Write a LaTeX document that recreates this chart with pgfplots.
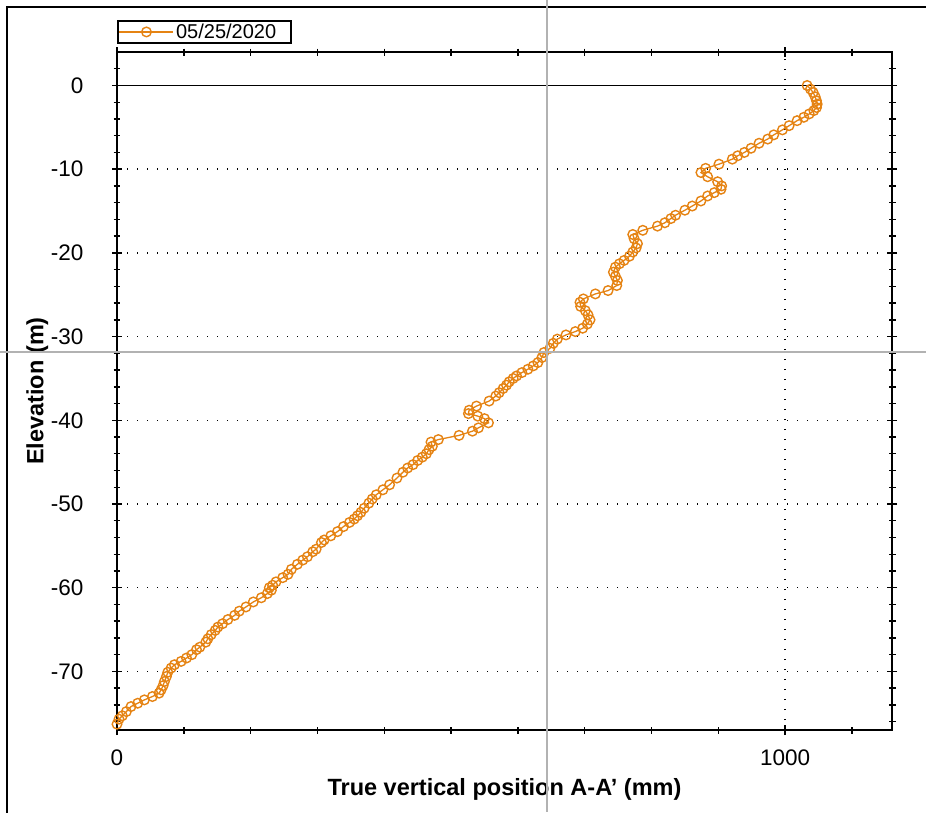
\documentclass[border=0pt]{standalone}
\usepackage{fontspec}
\setmainfont{Liberation Sans}
\usepackage{pgfplots}
\pgfplotsset{compat=1.18}
\definecolor{series}{RGB}{229,131,19}
\definecolor{cursor}{RGB}{178,178,178}
\begin{document}
\begin{tikzpicture}
\path[use as bounding box] (0pt,0pt) rectangle (926pt,-812pt);
% outer frame
\draw[line width=2pt] (6.5pt,-820pt) -- (6.5pt,-6.5pt) -- (930pt,-6.5pt);
\begin{axis}[
  at={(117pt,-730pt)}, anchor=south west,
  scale only axis, width=775pt, height=678pt,
  xmin=0, xmax=1160, ymin=-77, ymax=4,
  xtick={0,1000},
  minor xtick={100,200,300,400,500,600,700,800,900,1100},
  ytick={-70,-60,-50,-40,-30,-20,-10,0},
  minor ytick={-76,-74,-72,-68,-66,-64,-62,-58,-56,-54,-52,-48,-46,-44,-42,-38,-36,-34,-32,-28,-26,-24,-22,-18,-16,-14,-12,-8,-6,-4,-2,2},
  tick align=center,
  major tick length=10pt, minor tick length=7pt,
  every tick/.style={black, line width=1.4pt},
  axis line style={line width=1.9pt},
  grid=major,
  major grid style={black, line width=1.4pt, dash pattern=on 1.4pt off 8.6pt},
  /pgf/number format/assume math mode=true,
  /pgf/number format/1000 sep={},
  tick label style={font=\fontsize{22.5}{24}\selectfont},
  yticklabel style={xshift=-25pt},
  xticklabel style={yshift=-11pt},
  xlabel={True vertical position A-A' (mm)},
  ylabel={Elevation (m)},
  label style={font=\bfseries\fontsize{23.5}{25}\selectfont},
  x label style={at={(axis description cs:0.5,-0.088)}, anchor=center},
  y label style={at={(axis description cs:-0.103,0.5)}, anchor=center},
  legend style={at={(axis description cs:0,1.047)}, anchor=north west,
    draw=black, line width=1.6pt, inner sep=1pt,
    font=\fontsize{20}{22}\selectfont, legend cell align=left},
  legend image code/.code={
    \draw[mark repeat=2,mark phase=2,#1] plot coordinates {(6pt,0pt) (33pt,0pt) (60pt,0pt)};
  },
]
\draw[black, line width=1.8pt] (axis cs:0,0) -- (axis cs:1160,0);
\addplot[series, line width=1.3pt, mark=o, mark size=4.8pt,
  mark options={line width=1.4pt}] coordinates {
(1033,0.0) (1038,-0.44) (1042,-0.84) (1045,-1.35) (1047,-1.83) (1048,-2.23)
(1047,-2.63) (1043,-3.0) (1036,-3.4) (1028,-3.8) (1018,-4.2) (1006,-4.8)
(996,-5.3) (983,-5.9) (974,-6.4) (961,-6.9) (949,-7.5) (939,-8.0)
(929,-8.4) (921,-8.8) (901,-9.4) (881,-9.9) (874,-10.4) (884,-10.9)
(899,-11.5) (905,-12.0) (904,-12.4) (894,-12.8) (884,-13.2) (874,-13.8)
(861,-14.4) (850,-14.9) (836,-15.5) (829,-15.9) (820,-16.4) (809,-16.8)
(787,-17.3) (772,-17.8) (774,-18.3) (779,-18.9) (777,-19.4) (772,-19.9)
(767,-20.4) (759,-20.9) (752,-21.3) (746,-21.7) (743,-22.3) (746,-22.8)
(749,-23.3) (748,-23.9) (735,-24.5) (716,-24.9) (698,-25.5) (693,-25.9)
(694,-26.4) (701,-26.9) (705,-27.4) (708,-28.0) (704,-28.5) (697,-29.0)
(686,-29.4) (672,-29.8) (659,-30.3) (653,-30.8) (648,-31.4) (639,-31.9)
(636,-32.5) (630,-33.1) (623,-33.5) (615,-33.9) (606,-34.3) (598,-34.7)
(593,-35.0) (587,-35.4) (583,-35.8) (578,-36.2) (572,-36.7) (567,-37.1)
(557,-37.7) (538,-38.3) (527,-38.8) (526,-39.2) (540,-39.5) (550,-39.8)
(556,-40.3) (541,-40.9) (532,-41.3) (512,-41.8) (481,-42.3) (470,-42.6)
(472,-43.1) (467,-43.5) (463,-44.0) (457,-44.4) (450,-44.8) (443,-45.3)
(435,-45.7) (428,-46.2) (419,-46.9) (408,-47.7) (398,-48.3) (388,-48.9)
(382,-49.4) (377,-49.9) (370,-50.5) (365,-51.0) (360,-51.4) (355,-51.8)
(348,-52.2) (339,-52.7) (330,-53.3) (320,-53.8) (310,-54.3) (306,-54.6)
(298,-55.4) (293,-55.7) (285,-56.3) (278,-56.7) (270,-57.2) (261,-57.8)
(256,-58.4) (248,-58.8) (238,-59.3) (233,-59.7) (228,-60.0) (231,-60.3)
(225,-60.7) (216,-61.2) (204,-61.7) (193,-62.3) (183,-62.8) (176,-63.3)
(166,-63.8) (158,-64.3) (151,-64.7) (147,-65.1) (141,-65.6) (136,-66.1)
(133,-66.5) (124,-67.1) (119,-67.4) (112,-68.0) (104,-68.4) (96,-68.8)
(86,-69.2) (81,-69.6) (76,-70.1) (74,-70.6) (71,-71.2) (69,-71.7)
(66,-72.2) (63,-72.6) (53,-73.0) (41,-73.4) (31,-73.8) (21,-74.2)
(14,-74.8) (8,-75.3) (3,-75.7) (0,-76.3)
};
\addlegendentry{05/25/2020\hspace*{12pt}}
\end{axis}
% cursor cross-hair
\draw[cursor, line width=2pt] (547pt,0pt) -- (547pt,-812pt);
\draw[cursor, line width=2pt] (0pt,-352pt) -- (926pt,-352pt);
\end{tikzpicture}
\end{document}
